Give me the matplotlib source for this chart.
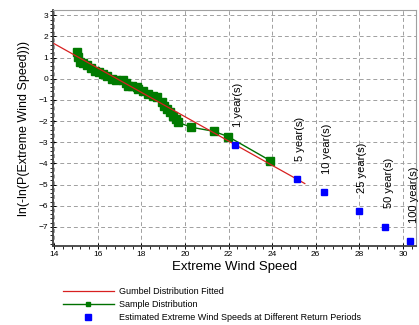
import matplotlib
matplotlib.use("Agg")
import matplotlib.pyplot as plt
from matplotlib.lines import Line2D
from matplotlib.ticker import MultipleLocator

plt.rcParams['font.family'] = ['Liberation Sans', 'DejaVu Sans']

# Sample distribution (green)
sample_x = [15.04, 15.10, 15.19, 15.33, 15.50, 15.69, 15.88, 16.06, 16.26, 16.43,
            16.64, 16.84, 17.17, 17.30, 17.40, 17.57, 17.78, 17.86, 18.07, 18.32,
            18.53, 18.70, 18.93, 19.03, 19.16, 19.31, 19.46, 19.58, 19.69, 20.30,
            21.32, 21.98, 23.92]
sample_y = [1.26, 1.01, 0.79, 0.73, 0.63, 0.51, 0.39, 0.32, 0.24, 0.11,
            0.00, -0.06, -0.08, -0.22, -0.32, -0.36, -0.40, -0.47, -0.58, -0.71,
            -0.79, -0.87, -1.11, -1.27, -1.42, -1.57, -1.74, -1.91, -2.06, -2.29,
            -2.48, -2.73, -3.87]

# Gumbel fitted line (red)
fit_x = [14.0, 25.5]
fit_y = [1.66, -4.95]

# Estimated return-period values (blue)
ret_labels = ["1 year(s)", "5 year(s)", "10 year(s)", "25 year(s)", "50 year(s)", "100 year(s)"]
ret_x = [22.28, 25.13, 26.36, 27.97, 29.18, 30.34]
ret_y = [-3.13, -4.74, -5.37, -6.27, -6.98, -7.66]

fig = plt.figure(figsize=(4.19, 3.25), dpi=100)
ax = fig.add_axes([53/419, 1-246/325, (416-53)/419, (246-10)/325])

ax.plot(fit_x, fit_y, color='#d82020', lw=0.9, zorder=3)
ax.plot(sample_x, sample_y, color='#007000', lw=1.0, marker='s', ms=5.5,
        mfc='#007a00', mec='#007a00', zorder=2)
ax.plot(ret_x, ret_y, ls='none', marker='s', ms=4.8, color='#0000ff',
        mec='#0000ff', zorder=4)

for lx, ly, lab in zip(ret_x, ret_y, ret_labels):
    ax.annotate(lab, (lx, ly), xytext=(2.5, 13), textcoords='offset points',
                rotation=90, ha='center', va='bottom', fontsize=8, color='black')

ax.set_xlim(13.95, 30.6)
ax.set_ylim(-7.9, 3.25)
ax.xaxis.set_major_locator(MultipleLocator(2))
ax.xaxis.set_minor_locator(MultipleLocator(0.4))
ax.yaxis.set_major_locator(MultipleLocator(1))
ax.yaxis.set_minor_locator(MultipleLocator(0.2))
ax.grid(True, which='major', ls=(0, (4, 3)), color='#a0a0a0', lw=0.7)
ax.tick_params(which='major', direction='inout', length=4, width=0.7, labelsize=6, pad=1.5)
ax.tick_params(which='minor', direction='out', length=2, width=0.6)
for s in ['left', 'bottom']:
    ax.spines[s].set_linewidth(1.3)
    ax.spines[s].set_color('#404040')
for s in ['top', 'right']:
    ax.spines[s].set_linewidth(0.8)
    ax.spines[s].set_color('#a0a0a0')

ax.set_xlabel("Extreme Wind Speed", fontsize=9.5, labelpad=2)
ax.set_ylabel("ln(-ln(P(Extreme Wind Speed)))", fontsize=9, labelpad=6)

handles = [
    Line2D([], [], color='#d82020', lw=0.9),
    Line2D([], [], color='#007000', lw=1.0, marker='s', ms=3, mfc='#007a00', mec='#007a00'),
    Line2D([], [], ls='none', marker='s', ms=5, color='#0000ff'),
]
labels = ["Gumbel Distribution Fitted", "Sample Distribution",
          "Estimated Extreme Wind Speeds at Different Return Periods"]
fig.legend(handles, labels, loc='upper left', bbox_to_anchor=(63/419, 1-287/325),
           frameon=False, fontsize=6.5, handlelength=5.6, handletextpad=0.6,
           labelspacing=0.45, borderpad=0, borderaxespad=0, numpoints=1)

fig.savefig("out.png", dpi=100)
